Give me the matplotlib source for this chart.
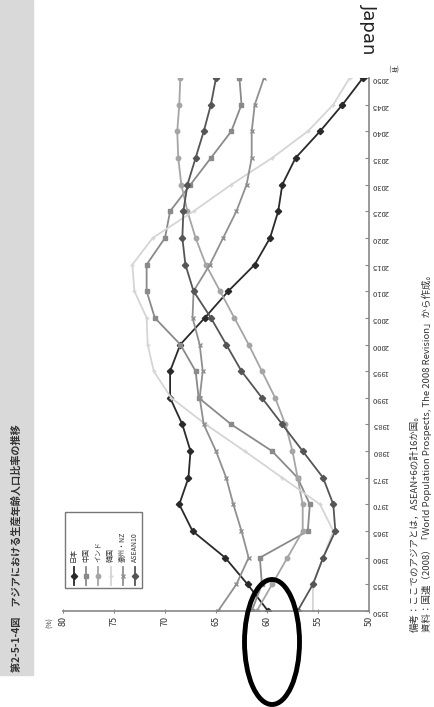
import matplotlib
matplotlib.use("Agg")
import matplotlib.pyplot as plt
from matplotlib.patches import Rectangle, Ellipse
from matplotlib.lines import Line2D

plt.rcParams["font.family"] = ["Noto Sans CJK JP", "DejaVu Sans"]

# -------- data (working-age population ratio, %)
years = list(range(1950, 2051, 5))
series_names = ["日本", "中国", "インド", "韓国", "豪州・NZ", "ASEAN10"]
japan = [59.9, 61.9, 64.1, 67.3, 68.6, 67.7, 67.5, 68.3, 69.5, 69.5, 68.5,
         66.1, 63.8, 61.2, 59.7, 58.9, 58.5, 57.2, 54.8, 52.6, 50.6]
china = [61.5, 60.5, 60.7, 56.0, 55.8, 57.0, 59.5, 63.5, 66.7, 67.0, 68.5,
         71.0, 71.8, 71.8, 70.0, 69.5, 67.5, 65.5, 63.5, 62.5, 62.7]
india = [61.0, 59.5, 58.0, 56.5, 56.5, 57.0, 57.5, 58.2, 59.2, 60.5, 61.8,
         63.2, 64.6, 66.0, 67.0, 67.8, 68.4, 68.7, 68.8, 68.6, 68.5]
korea = [55.5, 55.5, 54.5, 53.5, 54.8, 58.5, 62.2, 66.0, 69.4, 71.1, 71.7,
         71.8, 73.0, 73.2, 71.2, 67.2, 63.5, 59.5, 56.0, 53.5, 51.9]
aus_nz = [64.8, 63.0, 61.8, 62.5, 63.3, 64.0, 65.0, 66.2, 66.6, 66.3, 66.6,
          67.3, 67.2, 65.6, 64.3, 63.0, 62.0, 61.5, 61.5, 61.2, 60.3]
asean = [57.0, 55.5, 54.5, 53.3, 53.5, 54.5, 56.5, 58.5, 60.5, 62.5, 64.0,
         65.5, 67.2, 68.0, 68.3, 68.2, 67.8, 67.0, 66.2, 65.5, 65.0]
value_ticks = [80, 75, 70, 65, 60, 55, 50]

series = [japan, china, india, korea, aus_nz, asean]
colors = ["#2a2a2a", "#8a8a8a", "#a5a5a5", "#d5d5d5", "#909090", "#555555"]
markers = ["D", "s", "o", "+", "x", "D"]

title = "第2-5-1-4図　アジアにおける生産年齢人口比率の推移"
note1 = "備考：ここでのアジアとは，ASEAN+6の計16か国。"
note2 = "資料：国連（2008）「World Population Prospects, The 2008 Revision」から作成。"

W, H = 434, 707
fig = plt.figure(figsize=(W / 100, H / 100), dpi=100)


def fx(px):
    return px / W


def fy(py):
    return 1 - py / H


# chart is shown rotated: values run horizontally, years vertically
ax = fig.add_axes([fx(63), fy(611), fx(369 - 63), fy(78) - fy(611)])
for vals, c, m in zip(series, colors, markers):
    ax.plot(vals, years, color=c, marker=m, ms=3.2, mew=1.0, lw=1.3)

ax.set_xlim(80, 50)
ax.set_ylim(1950, 2050)
ax.set_xticks(value_ticks)
ax.set_yticks(years)
for s in ["left", "top"]:
    ax.spines[s].set_visible(False)
for s in ["bottom", "right"]:
    ax.spines[s].set_color("#888888")
    ax.spines[s].set_linewidth(1.2)
ax.yaxis.tick_right()
ax.tick_params(axis="y", direction="in", length=3, color="#888888",
               labelsize=5.5, labelrotation=180, pad=2, labelcolor="#333333")
ax.tick_params(axis="x", direction="inout", length=3, color="#888888",
               labelsize=6.5, labelrotation=90, pad=2, labelcolor="#333333")
for lab in ax.get_yticklabels():
    lab.set_horizontalalignment("left")

# title band
fig.patches.append(Rectangle((0, fy(675)), fx(33), 1 - fy(675),
                             transform=fig.transFigure, color="#d9d9d9", zorder=0))
fig.text(fx(17), fy(672), title, rotation=90, ha="center", va="bottom",
         fontsize=7.3, fontweight="bold", color="#333333")

fig.text(fx(50), fy(617), "(%)", rotation=90, ha="center", va="top",
         fontsize=5, color="#333333")
fig.text(fx(393), fy(66), "(年)", rotation=180, ha="center", va="center",
         fontsize=4.5, color="#333333")
fig.text(fx(369), fy(4), "Japan", rotation=-90, ha="center", va="top",
         fontsize=13, family="DejaVu Sans", color="#222222")

fig.text(fx(415), fy(632), note1, rotation=90, ha="center", va="bottom",
         fontsize=6.8, color="#333333")
fig.text(fx(427), fy(632), note2, rotation=90, ha="center", va="bottom",
         fontsize=6.8, color="#333333")

# legend box (rotated)
fig.patches.append(Rectangle((fx(65), fy(588)), fx(142 - 65), fy(512) - fy(588),
                             transform=fig.transFigure, fill=False,
                             ec="#777777", lw=1.0))
for i, (name, c, m) in enumerate(zip(series_names, colors, markers)):
    xc = 74 + i * 12.2
    fig.add_artist(Line2D([fx(xc), fx(xc)], [fy(585), fy(567)], color=c,
                          lw=1.3, transform=fig.transFigure))
    fig.add_artist(Line2D([fx(xc)], [fy(576)], color=c, marker=m, ms=3.2,
                          mew=1.0, transform=fig.transFigure))
    fig.text(fx(xc), fy(562), name, rotation=90, ha="center", va="bottom",
             fontsize=5, color="#333333")

# highlight ellipse
fig.patches.append(Ellipse((fx(272), fy(642)), fx(55), 125 / H,
                           transform=fig.transFigure, fill=False,
                           ec="black", lw=3.5, zorder=10))

fig.savefig("out.png", dpi=100)
